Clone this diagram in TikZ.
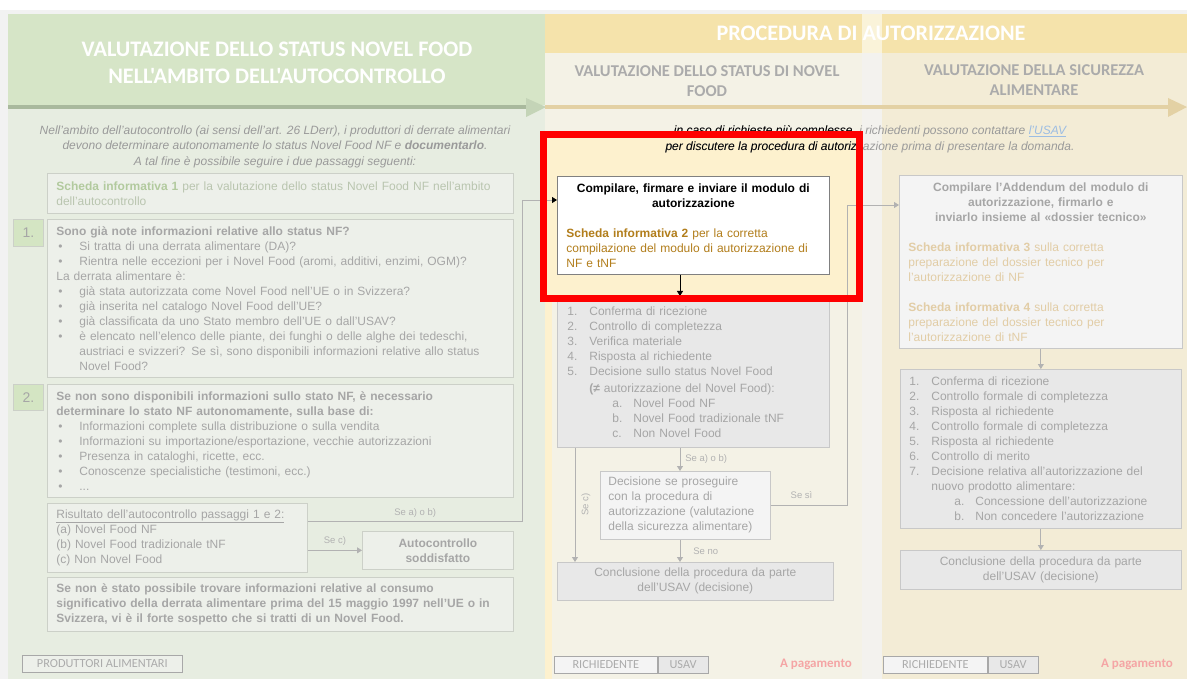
\documentclass[tikz,border=0pt]{standalone}
\usepackage{fontspec}
\setmainfont{Liberation Sans}
\newfontfamily\hdrfont{Carlito}
\usepackage{tikz}
\usetikzlibrary{arrows.meta}
\usetikzlibrary{calc}
\usetikzlibrary{positioning}
\setlength{\parindent}{0pt}

\definecolor{framegray}{HTML}{F2F2F2}
\definecolor{greenhead}{HTML}{D6E5C7}
\definecolor{greenbody}{HTML}{E7EDE1}
\definecolor{greenbox}{HTML}{EDF0EA}
\definecolor{greenlabel}{HTML}{D4E5C3}
\definecolor{greenline}{HTML}{A9B99D}
\definecolor{greentip}{HTML}{C4D4B7}
\definecolor{yellowhead}{HTML}{F5E3AB}
\definecolor{midbody}{HTML}{F4F2E6}
\definecolor{rightbody}{HTML}{F3ECD6}
\definecolor{stripbody}{HTML}{F3F2EE}
\definecolor{tanline}{HTML}{E3D1A4}
\definecolor{hilite}{HTML}{FDF1CE}
\definecolor{txtgray}{HTML}{A6A6A6}
\definecolor{introgray}{HTML}{9A9A9A}
\definecolor{hdrgray}{HTML}{ABABAB}
\definecolor{boxline}{HTML}{CCD0C8}
\definecolor{mboxline}{HTML}{C8C8C8}
\definecolor{greylist}{HTML}{E8E8E8}
\definecolor{greylight}{HTML}{F4F4F4}
\definecolor{legendline}{HTML}{A8A8A8}
\definecolor{conngray}{HTML}{B2B2B2}
\definecolor{scheda1}{HTML}{B2CA9E}
\definecolor{scheda1txt}{HTML}{B9C5AF}
\definecolor{scheda2}{HTML}{B27E1C}
\definecolor{scheda34}{HTML}{E2CDA6}
\definecolor{payred}{HTML}{F5A5A5}
\definecolor{linkblue}{HTML}{9CBDE3}

\newcommand{\bul}[1]{\makebox[23pt][l]{\hspace{2pt}\textbullet}#1}
\newcommand{\nitem}[2]{\makebox[22pt][l]{#1}#2}
\newcommand{\litem}[2]{\hspace*{45pt}\makebox[21pt][l]{#1}#2}

\tikzset{
  body/.style={font=\fontsize{12}{15}\selectfont},
  lbox/.style={body, draw=boxline, fill=greenbox, line width=0.7pt, anchor=north west,
    inner xsep=9pt, inner ysep=0pt, align=left, text=txtgray},
  mbox/.style={body, draw=mboxline, fill=greylist, line width=0.7pt, anchor=north west,
    inner xsep=9pt, inner ysep=0pt, align=left, text=txtgray},
  numbox/.style={draw=boxline, fill=greenlabel, line width=0.7pt, anchor=north west,
    minimum width=30pt, minimum height=27pt, text=txtgray, font=\fontsize{14}{15}\selectfont},
  legend/.style={draw=legendline, line width=0.7pt, anchor=north west, minimum height=17pt,
    text=hdrgray, font=\hdrfont\fontsize{12.3}{13}\selectfont},
  hdrtitle/.style={font=\hdrfont\bfseries\fontsize{22.2}{27}\selectfont, text=white, align=center},
  subtitle/.style={font=\hdrfont\bfseries\fontsize{16.5}{20}\selectfont, text=hdrgray, align=center},
  intro/.style={font=\itshape\fontsize{12}{15.5}\selectfont, align=center},
  conn/.style={draw=conngray, line width=0.8pt, -{Triangle[length=5pt,width=6pt]}},
  lbl/.style={font=\fontsize{9.5}{11}\selectfont, text=conngray},
  pay/.style={font=\hdrfont\bfseries\fontsize{13}{15}\selectfont, text=payred}
}

\begin{document}
\begin{tikzpicture}[x=1pt,y=-1pt, every node/.style={inner sep=0pt}]
\useasboundingbox (0,0) rectangle (1187,679);

% columns
\fill[white] (0,0) rectangle (1187,679);
\fill[framegray] (0,10) rectangle (1187,679);
\fill[greenbody] (8,14) rectangle (545,679);
\fill[greenhead] (8,14) rectangle (545,105);
\fill[midbody] (545,14) rectangle (862,679);
\fill[rightbody] (882,14) rectangle (1187,679);
\fill[yellowhead] (545,14) rectangle (1187,53);
\fill[stripbody] (862,53) rectangle (882,679);
\fill[yellowhead!45!white] (862,14) rectangle (882,53);
\fill[hilite] (543,134) rectangle (859,299);
\fill[hilite] (545,299) rectangle (552,679);

% header arrows
\fill[greenline] (8,105) rectangle (528,109);
\fill[greentip] (526,98) -- (546,107) -- (526,117) -- cycle;
\fill[tanline] (545,105) rectangle (1170,109);
\fill[tanline] (1168,98) -- (1187,107) -- (1168,117) -- cycle;

% headings
\node[hdrtitle] (ttlNF) at (277,62.5) {VALUTAZIONE DELLO STATUS NOVEL FOOD\\NELL'AMBITO DELL'AUTOCONTROLLO};
\node[hdrtitle] (ttlProc) at (871,33.5) {PROCEDURA DI AUTORIZZAZIONE};
\node[subtitle] (subNF) at (707,81) {VALUTAZIONE DELLO STATUS DI NOVEL\\FOOD};
\node[subtitle] (subSic) at (1034,80.5) {VALUTAZIONE DELLA SICUREZZA\\ALIMENTARE};

% left column: autocontrollo
\node[intro, text=introgray] (introL) at (275,146.5) {Nell'ambito dell'autocontrollo (ai sensi dell'art. 26 LDerr), i produttori di derrate alimentari\\devono determinare autonomamente lo status Novel Food NF e \textbf{documentarlo}.\\A tal fine è possibile seguire i due passaggi seguenti:};

\node[lbox, text width=448pt, minimum height=40pt] (sch1) at (47,173) {\textcolor{scheda1}{\textbf{Scheda informativa 1}} \textcolor{scheda1txt}{per la valutazione dello status Novel Food NF nell'ambito\\dell'autocontrollo}};

\node[numbox] (n1) at (13,219) {1.};
\node[lbox, text width=448pt, minimum height=158pt] (q1) at (47,219) {\textbf{Sono già note informazioni relative allo status NF?}\\
\bul{Si tratta di una derrata alimentare (DA)?}\\
\bul{Rientra nelle eccezioni per i Novel Food (aromi, additivi, enzimi, OGM)?}\\
La derrata alimentare è:\\
\bul{già stata autorizzata come Novel Food nell'UE o in Svizzera?}\\
\bul{già inserita nel catalogo Novel Food dell'UE?}\\
\bul{già classificata da uno Stato membro dell'UE o dall'USAV?}\\
\bul{è elencato nell'elenco delle piante, dei funghi o delle alghe dei tedeschi,}\\
\hspace*{23pt}austriaci e svizzeri? Se sì, sono disponibili informazioni relative allo status\\
\hspace*{23pt}Novel Food?};

\node[numbox, minimum height=26pt] (n2) at (13,384) {2.};
\node[lbox, text width=448pt, minimum height=113pt] (q2) at (47,384) {\textbf{Se non sono disponibili informazioni sullo stato NF, è necessario}\\
\textbf{determinare lo stato NF autonomamente, sulla base di:}\\
\bul{Informazioni complete sulla distribuzione o sulla vendita}\\
\bul{Informazioni su importazione/esportazione, vecchie autorizzazioni}\\
\bul{Presenza in cataloghi, ricette, ecc.}\\
\bul{Conoscenze specialistiche (testimoni, ecc.)}\\
\bul{...}};

\node[lbox, text width=242pt, minimum height=69pt] (res) at (47,503) {\underline{Risultato dell'autocontrollo passaggi 1 e 2:}\\(a) Novel Food NF\\(b) Novel Food tradizionale tNF\\(c) Non Novel Food};
\node[lbox, text width=133pt, minimum height=38pt, align=center, font=\fontsize{12}{15}\selectfont\bfseries] (auto) at (362,531) {Autocontrollo\\soddisfatto};
\node[lbox, text width=448pt, minimum height=54pt, font=\fontsize{12}{15}\selectfont\bfseries] (susp) at (47,577) {Se non è stato possibile trovare informazioni relative al consumo\\significativo della derrata alimentare prima del 15 maggio 1997 nell'UE o in\\Svizzera, vi è il forte sospetto che si tratti di un Novel Food.};

\node[legend, fill=greenbox, minimum width=160pt] (prod) at (22,655) {PRODUTTORI ALIMENTARI};

% middle column: status NF
\node[intro, text=introgray] (introM) at (870,139.5) {in caso di richieste più complesse, i richiedenti possono contattare \textcolor{linkblue}{\underline{l'USAV}}\\per discutere la procedura di autorizzazione prima di presentare la domanda.};

\node[mbox, fill=white, draw=gray, text width=254pt, minimum height=98pt, text=black] (cmp) at (557,176) {\makebox[\hsize]{\textbf{Compilare, firmare e inviare il modulo di}}\\
\makebox[\hsize]{\textbf{autorizzazione}}\\[15pt]
\textcolor{scheda2}{\textbf{Scheda informativa 2} per la corretta\\compilazione del modulo di autorizzazione di\\NF e tNF}};

\node[mbox, text width=252pt, inner xsep=10pt, minimum height=151pt] (lst) at (557,296) {\nitem{1.}{Conferma di ricezione}\\
\nitem{2.}{Controllo di completezza}\\
\nitem{3.}{Verifica materiale}\\
\nitem{4.}{Risposta al richiedente}\\
\nitem{5.}{Decisione sullo status Novel Food}\\[2pt]
\hspace*{22pt}\textbf{(≠} autorizzazione del Novel Food):\\
\litem{a.}{Novel Food NF}\\
\litem{b.}{Novel Food tradizionale tNF}\\
\litem{c.}{Non Novel Food}};

\node[mbox, fill=greylight, text width=154pt, inner xsep=8pt, minimum height=68pt] (dec) at (600,471) {Decisione se proseguire\\con la procedura di\\autorizzazione (valutazione\\della sicurezza alimentare)};
\node[mbox, text width=258pt, minimum height=38pt, align=center] (conc) at (557,562) {Conclusione della procedura da parte\\dell'USAV (decisione)};

\node[legend, fill=greylight, minimum width=103pt] (rich1) at (554,656) {RICHIEDENTE};
\node[legend, fill=greylist, minimum width=50pt] (usav1) at (rich1.north east) {USAV};
\node[pay] (pay1) at (816,664) {A pagamento};

% right column: sicurezza alimentare
\node[mbox, fill=greylight, text width=265pt, minimum height=173pt] (add) at (899,175) {\makebox[\hsize]{\textbf{Compilare l'Addendum del modulo di}}\\
\makebox[\hsize]{\textbf{autorizzazione, firmarlo e}}\\
\makebox[\hsize]{\textbf{inviarlo insieme al «dossier tecnico»}}\\[15pt]
\textcolor{scheda34}{\textbf{Scheda informativa 3} sulla corretta\\preparazione del dossier tecnico per\\l'autorizzazione di NF}\\[15pt]
\textcolor{scheda34}{\textbf{Scheda informativa 4} sulla corretta\\preparazione del dossier tecnico per\\l'autorizzazione di tNF}};

\node[mbox, text width=263pt, minimum height=159pt] (rlst) at (900,369) {\nitem{1.}{Conferma di ricezione}\\
\nitem{2.}{Controllo formale di completezza}\\
\nitem{3.}{Risposta al richiedente}\\
\nitem{4.}{Controllo formale di completezza}\\
\nitem{5.}{Risposta al richiedente}\\
\nitem{6.}{Controllo di merito}\\
\nitem{7.}{Decisione relativa all'autorizzazione del}\\
\hspace*{22pt}nuovo prodotto alimentare:\\
\litem{a.}{Concessione dell'autorizzazione}\\
\litem{b.}{Non concedere l'autorizzazione}};
\node[mbox, text width=263pt, minimum height=39pt, align=center] (rconc) at (900,550) {Conclusione della procedura da parte\\dell'USAV (decisione)};

\node[legend, fill=greylight, minimum width=104pt] (rich2) at (883,656) {RICHIEDENTE};
\node[legend, fill=greylist, minimum width=50pt] (usav2) at (rich2.north east) {USAV};
\node[pay] (pay2) at (1137,664) {A pagamento};

% connectors
\coordinate (abOut) at ($(res.north east)+(0,18)$);
\coordinate (abIn) at ($(cmp.north west)+(0,24)$);
\coordinate (siIn) at ($(add.north west)+(0,30)$);
\coordinate (colA) at (680,0);
\coordinate (colC) at (575,0);

\draw[conn, -{Triangle[length=5pt,width=6pt,color=black]}] (abOut) -- node[lbl, above=3pt] {Se a) o b)} ++(215,0) |- (abIn);
\draw[conn] (res.east |- auto.west) -- node[lbl, above=4pt] {Se c)} (auto.west);
\draw[conn, draw=black] (cmp.south -| colA) -- (lst.north -| colA);
\draw[conn] (lst.south -| colA) -- node[lbl, right=5pt] {Se a) o b)} (dec.north -| colA);
\draw[conn] (dec.south -| colA) -- node[lbl, right=13pt] {Se no} (conc.north -| colA);
\draw[conn] (lst.south -| colC) -- node[lbl, rotate=90, anchor=north, inner ysep=6pt] {Se c)} (conc.north -| colC);
\draw[conn] (dec.east) -- node[lbl, pos=0.4, above=6pt] {Se sì} ++(77,0) |- (siIn);
\draw[conn] (add.south) -- (rlst.north);
\draw[conn] (rlst.south) -- (rconc.north);

% highlighted part
\begin{scope}
  \clip (540,118) rectangle (855,299);
  \node[intro, text=black] (introMk) at (introM.center) {in caso di richieste più complesse, i richiedenti possono contattare \textcolor{linkblue}{\underline{l'USAV}}\\per discutere la procedura di autorizzazione prima di presentare la domanda.};
\end{scope}
\draw[red, line width=7pt] (543.5,134.5) rectangle (859,299);
\end{tikzpicture}
\end{document}
